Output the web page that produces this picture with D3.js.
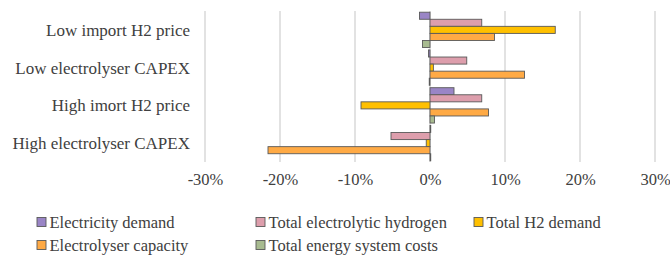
<!DOCTYPE html>
<html><head><meta charset="utf-8">
<script src="https://cdn.jsdelivr.net/npm/d3@7"></script>
<style>body{margin:0;background:#fff}svg{display:block}</style>
</head><body>
<script>
const categories = ["Low import H2 price","Low electrolyser CAPEX","High imort H2 price","High electrolyser CAPEX"];
const seriesNames = ["Electricity demand","Total electrolytic hydrogen","Total H2 demand","Electrolyser capacity","Total energy system costs"];
const electricityDemand = [-1.4, -0.2, 3.2, 0.1];
const totalElectrolyticHydrogen = [6.9, 4.9, 6.9, -5.2];
const totalH2Demand = [16.7, 0.45, -9.2, -0.5];
const electrolyserCapacity = [8.6, 12.6, 7.8, -21.6];
const totalEnergySystemCosts = [-1.0, -0.1, 0.6, 0.1];
const tickValues = [-30,-20,-10,0,10,20,30];
const colors = ["#9a85c6","#dd9eac","#ffc000","#ffaa45","#a8bb90"];

const seriesValues = [electricityDemand,totalElectrolyticHydrogen,totalH2Demand,electrolyserCapacity,totalEnergySystemCosts];
const W=670,H=256;
const FONT='"Liberation Serif"';
const FS="16.5px";
const svg=d3.select("body").append("svg").attr("width",W).attr("height",H);
const x=d3.scaleLinear().domain([-30,30]).range([205,655]);
const y=d3.scaleBand().domain(categories).range([11,162]).paddingInner(0).paddingOuter(0);
const inner=d3.scaleBand().domain(d3.range(5)).range([0,y.bandwidth()]).paddingInner(0).paddingOuter(0.17);

svg.append("g").selectAll("line").data(tickValues).join("line")
  .attr("x1",d=>x(d)).attr("x2",d=>x(d)).attr("y1",11).attr("y2",162)
  .attr("stroke","#d9d9d9").attr("stroke-width",1.5);

const rows=[];
categories.forEach((c,ci)=>seriesValues.forEach((s,si)=>rows.push({c,si,v:s[ci]})));
svg.append("g").selectAll("rect").data(rows).join("rect")
  .attr("x",d=>x(Math.min(0,d.v))).attr("width",d=>Math.abs(x(d.v)-x(0)))
  .attr("y",d=>y(d.c)+inner(d.si)).attr("height",inner.bandwidth())
  .attr("fill",d=>colors[d.si]).attr("stroke","#595959").attr("stroke-width",0.9);

svg.append("g").selectAll("text").data(categories).join("text")
  .attr("x",190).attr("y",d=>y(d)+y.bandwidth()/2).attr("dy","0.35em")
  .attr("text-anchor","end").style("font-family",FONT).style("font-size","17px").attr("fill","#404040")
  .text(d=>d);

const ax=svg.append("g").attr("transform","translate(0,166)")
  .call(d3.axisBottom(x).tickValues(tickValues).tickSize(0).tickPadding(7).tickFormat(d=>d+"%"));
ax.select(".domain").remove();
ax.selectAll("text").style("font-family",FONT).style("font-size",FS).attr("fill","#404040");

const legPos=[[37,222],[256,222],[474,222],[37,245],[256,245]];
const lg=svg.append("g").selectAll("g").data(seriesNames).join("g")
  .attr("transform",(d,i)=>`translate(${legPos[i][0]},${legPos[i][1]})`);
lg.append("rect").attr("x",0).attr("y",-4.5).attr("width",9).attr("height",9)
  .attr("fill",(d,i)=>colors[i]).attr("stroke","#595959").attr("stroke-width",0.9);
lg.append("text").attr("x",12.5).attr("y",0).attr("dy","0.35em")
  .style("font-family",FONT).style("font-size",FS).attr("fill","#404040").text(d=>d);
</script>
</body></html>
